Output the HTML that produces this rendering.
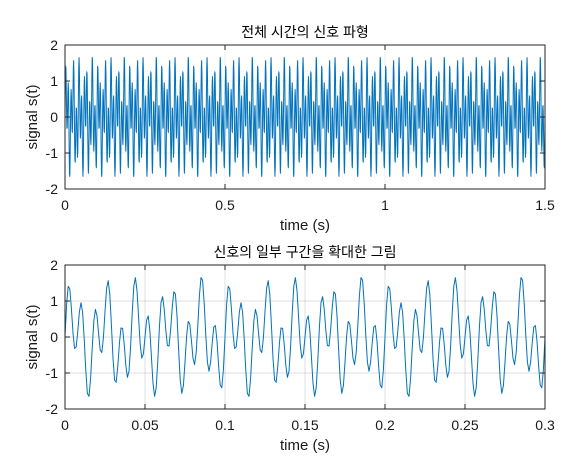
<!DOCTYPE html>
<html><head><meta charset="utf-8"><style>
html,body{margin:0;padding:0;background:#fff;}
svg{display:block;font-family:"Liberation Sans","Noto Sans CJK KR",sans-serif;}
</style></head><body>
<svg id="fig" width="571" height="474" viewBox="0 0 571 474"></svg>
<script>
// signal components (amplitude, frequency in Hz), sampling rate
const amplitudes = [0.7, 1.0];
const frequencies = [50, 120];
const sampleRate = 1000;
const topXTicks = [0, 0.5, 1, 1.5];
const bottomXTicks = [0, 0.05, 0.1, 0.15, 0.2, 0.25, 0.3];
const yTicks = [-2, -1, 0, 1, 2];
const topTitle = "전체 시간의 신호 파형";
const bottomTitle = "신호의 일부 구간을 확대한 그림";

const NS = "http://www.w3.org/2000/svg";
const svg = document.getElementById("fig");
function mk(tag, attrs, parent){const e=document.createElementNS(NS,tag);for(const k in attrs)e.setAttribute(k,attrs[k]);(parent||svg).appendChild(e);return e;}
function signal(t){let s=0;for(let i=0;i<amplitudes.length;i++)s+=amplitudes[i]*Math.sin(2*Math.PI*frequencies[i]*t);return s;}

function drawAxes(name, x0, x1, y0, y1, tmax, xticks, title, gridAlpha){
  const g = mk("g",{});
  
  
  const sx = t => x0 + (t/tmax)*(x1-x0);
  const sy = v => y1 - (v+2)/4*(y1-y0);
  mk("rect",{x:x0,y:y0,width:x1-x0,height:y1-y0,fill:"#fff"},g);
  xticks.forEach(t=>{mk("line",{x1:sx(t),x2:sx(t),y1:y0,y2:y1,stroke:"#262626","stroke-opacity":gridAlpha,"stroke-width":1},g);});
  yTicks.forEach(v=>{mk("line",{x1:x0,x2:x1,y1:sy(v),y2:sy(v),stroke:"#262626","stroke-opacity":gridAlpha,"stroke-width":1},g);});
  const n = Math.round(tmax*sampleRate);
  let d="";
  for(let i=0;i<=n;i++){const t=i/sampleRate;d+=(i?"L":"M")+sx(t).toFixed(2)+","+sy(signal(t)).toFixed(2);}
  const p = mk("path",{d:d,fill:"none",stroke:"#0072BD","stroke-width":1,"stroke-linejoin":"round"},g);
  
  
  mk("rect",{x:x0,y:y0,width:x1-x0,height:y1-y0,fill:"none",stroke:"#262626","stroke-width":1},g);
  xticks.forEach(t=>{
    mk("line",{x1:sx(t),x2:sx(t),y1:y1,y2:y1-5,stroke:"#262626"},g);
    mk("line",{x1:sx(t),x2:sx(t),y1:y0,y2:y0+5,stroke:"#262626"},g);
    const tx=mk("text",{x:sx(t),y:y1+21,"text-anchor":"middle","font-size":14,fill:"#1a1a1a"},g);
    tx.textContent=String(t);
    
    
  });
  yTicks.forEach(v=>{
    mk("line",{x1:x0,x2:x0+5,y1:sy(v),y2:sy(v),stroke:"#262626"},g);
    mk("line",{x1:x1,x2:x1-5,y1:sy(v),y2:sy(v),stroke:"#262626"},g);
    const tx=mk("text",{x:x0-7,y:sy(v)+5,"text-anchor":"end","font-size":14,fill:"#1a1a1a"},g);
    tx.textContent=String(v);
    
    
  });
  const tt=mk("text",{x:(x0+x1)/2,y:y0-8,"text-anchor":"middle","font-size":14,fill:"#000"},g);
  tt.textContent=title;
  
  
  const xl=mk("text",{x:(x0+x1)/2,y:y1+41,"text-anchor":"middle","font-size":15,fill:"#1a1a1a"},g);
  xl.textContent="time (s)";
  
  
  const cy=(y0+y1)/2;
  const yl=mk("text",{x:37,y:cy,"text-anchor":"middle","font-size":15,fill:"#1a1a1a",transform:"rotate(-90 37 "+cy+")"},g);
  yl.textContent="signal s(t)";
  
  
}
drawAxes("full-signal-axes",65,545,45,189,1.5,topXTicks,topTitle,0.08);
drawAxes("zoomed-signal-axes",65,545,265,409,0.3,bottomXTicks,bottomTitle,0.15);
</script>
</body></html>
